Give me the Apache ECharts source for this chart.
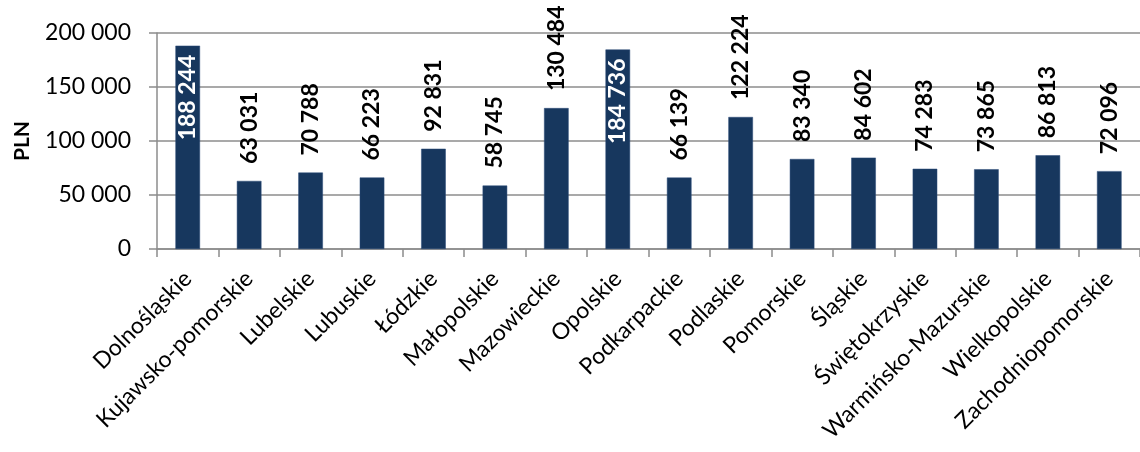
<!DOCTYPE html>
<html>
<head>
<meta charset="utf-8">
<script src="https://cdn.jsdelivr.net/npm/echarts@6/dist/echarts.min.js"></script>
<style>
  html, body { margin: 0; padding: 0; background: #fff; }
  #chart { width: 1140px; height: 452px; }
</style>
</head>
<body>
<div id="chart"></div>
<script>
// Regions (voivodeships) and their values in PLN
const regions = [
  'Dolnośląskie', 'Kujawsko-pomorskie', 'Lubelskie', 'Lubuskie', 'Łódzkie',
  'Małopolskie', 'Mazowieckie', 'Opolskie', 'Podkarpackie', 'Podlaskie',
  'Pomorskie', 'Śląskie', 'Świętokrzyskie', 'Warmińsko-Mazurskie',
  'Wielkopolskie', 'Zachodniopomorskie'
];
const values = [
  188244, 63031, 70788, 66223, 92831,
  58745, 130484, 184736, 66139, 122224,
  83340, 84602, 74283, 73865,
  86813, 72096
];
// Bars whose value label sits inside the bar top
const insideLabelRegions = ['Dolnośląskie', 'Opolskie'];

const FONT = 'Lato';
const BAR = '#17375e';
const GRID = '#8c8c8c';

function fmt(v) {
  return String(Math.round(v)).replace(/\B(?=(\d{3})+(?!\d))/g, ' ');
}

const seriesData = values.map((v, i) => {
  const item = { value: v };
  if (insideLabelRegions.includes(regions[i])) {
    item.label = {
      position: 'insideTop',
      align: 'right',
      verticalAlign: 'middle',
      distance: 9,
      color: '#ffffff'
    };
  }
  return item;
});

const chart = echarts.init(document.getElementById('chart'));
chart.setOption({
  animation: false,
  backgroundColor: '#ffffff',
  grid: { left: 157, right: -12, top: 33, bottom: 203, containLabel: false },
  xAxis: {
    type: 'category',
    data: regions,
    axisLine: { lineStyle: { color: GRID, width: 1.5 } },
    axisTick: { show: true, length: 8, lineStyle: { color: GRID, width: 1.5 } },
    axisLabel: {
      rotate: 45,
      interval: 0,
      margin: 26,
      fontFamily: FONT,
      fontSize: 23,
      color: '#000'
    }
  },
  yAxis: {
    type: 'value',
    min: 0,
    max: 200000,
    interval: 50000,
    name: 'PLN',
    nameLocation: 'middle',
    nameGap: 124,
    nameRotate: 90,
    nameTextStyle: { fontFamily: FONT, fontSize: 21, fontWeight: 'bold', color: '#000' },
    axisLine: { show: true, lineStyle: { color: GRID, width: 1.5 } },
    axisTick: { show: true, length: 8, lineStyle: { color: GRID, width: 1.5 } },
    splitLine: { lineStyle: { color: GRID, width: 1.5 } },
    axisLabel: {
      margin: 26,
      fontFamily: FONT,
      fontSize: 23,
      color: '#000',
      formatter: fmt
    }
  },
  series: [{
    type: 'bar',
    data: seriesData,
    barWidth: '40%',
    itemStyle: { color: BAR, borderColor: '#2a4a78', borderWidth: 0.5 },
    label: {
      show: true,
      position: 'top',
      rotate: 90,
      align: 'left',
      verticalAlign: 'middle',
      distance: 17,
      fontFamily: FONT,
      fontSize: 23,
      fontWeight: 'bold',
      color: '#000',
      formatter: p => fmt(p.value)
    }
  }]
});
</script>
</body>
</html>
